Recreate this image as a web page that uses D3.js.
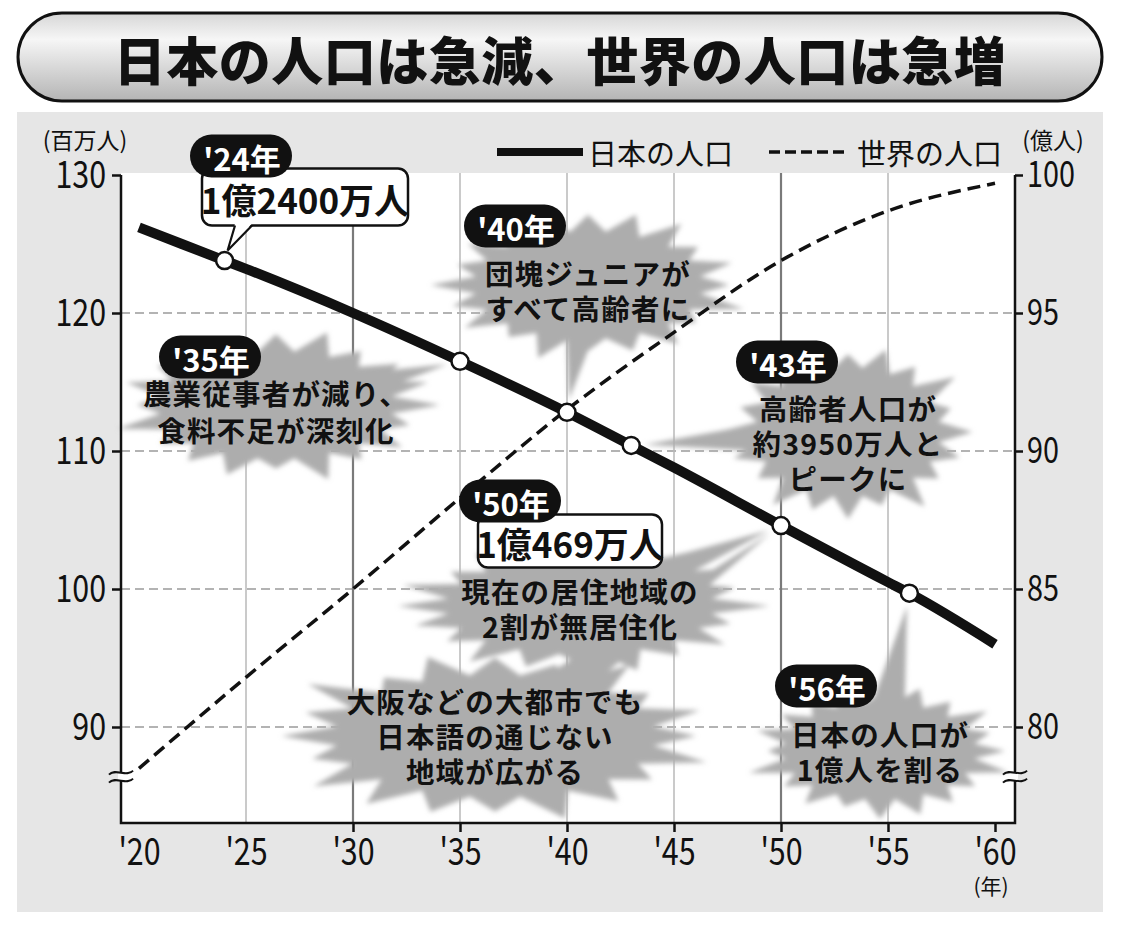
<!DOCTYPE html>
<html>
<head>
<meta charset="utf-8">
<title>日本の人口は急減、世界の人口は急増</title>
<script src="https://cdn.jsdelivr.net/npm/d3@7"></script>
<style>
  body { margin: 0; background: #fff; }
  svg { display: block; }
</style>
</head>
<body>
<div class="main"></div>
<script>

// ---- data ----
var titleText = '日本の人口は急減、世界の人口は急増';
var jpYears = [2020, 2024, 2025, 2030, 2035, 2040, 2043, 2045, 2050, 2055, 2056, 2060];
var jpPop   = [126.2, 123.8, 123.2, 120.0, 116.5, 112.8, 110.4, 108.8, 104.6, 100.5, 99.7, 96.0]; // 百万人
var wYears  = [2020, 2025, 2030, 2035, 2040, 2045, 2050, 2055, 2060];
var wPop    = [78.5, 81.8, 85.0, 88.3, 91.5, 94.3, 96.9, 98.7, 99.7]; // 億人
var markYears = [2024, 2035, 2040, 2043, 2050, 2056];
var xTicks = [2020, 2025, 2030, 2035, 2040, 2045, 2050, 2055, 2060];
var leftTicks = [90, 100, 110, 120, 130];
var rightTicks = [80, 85, 90, 95, 100];
var seriesNames = ['日本の人口', '世界の人口'];

var notes = [
  { tag: "'35年", lines: ['農業従事者が減り、', '食料不足が深刻化'] },
  { tag: "'40年", lines: ['団塊ジュニアが', 'すべて高齢者に'] },
  { tag: "'43年", lines: ['高齢者人口が', '約3950万人と', 'ピークに'] },
  { tag: "'50年", lines: ['現在の居住地域の', '2割が無居住化'] },
  { tag: null,    lines: ['大阪などの大都市でも', '日本語の通じない', '地域が広がる'] },
  { tag: "'56年", lines: ['日本の人口が', '1億人を割る'] }
];
var boxes = [ { tag: "'24年", text: '1億2400万人' }, { tag: null, text: '1億469万人' } ];

// ---- layout ----
var W = 1125, H = 926;
var NUM = "'Liberation Sans Narrow','Arial Narrow','Noto Sans CJK JP',sans-serif";
var JP = "'Noto Sans CJK JP','Noto Sans',sans-serif";
var plotL = 121, plotR = 1015, plotT = 173, plotB = 823;
var squeeze = 0.8; // narrow digits like the print

var x = d3.scaleLinear().domain([2020, 2060]).range([139, 995]);
var yL = d3.scaleLinear().domain([90, 130]).range([727, 175]);
var yR = d3.scaleLinear().domain([80, 100]).range([727, 175]);

function jpAt(yr) { return jpPop[jpYears.indexOf(yr)]; }

var svg = d3.select('.main').append('svg').attr('width', W).attr('height', H);
var defs = svg.append('defs');

var grad = defs.append('linearGradient').attr('id', 'pill').attr('x1', 0).attr('x2', 0).attr('y1', 0).attr('y2', 1);
grad.append('stop').attr('offset', '0%').attr('stop-color', '#d6d6d6');
grad.append('stop').attr('offset', '30%').attr('stop-color', '#f6f6f6');
grad.append('stop').attr('offset', '100%').attr('stop-color', '#b4b4b4');

defs.append('filter').attr('id', 'soft').attr('x', '-20%').attr('y', '-20%').attr('width', '140%').attr('height', '140%')
  .append('feGaussianBlur').attr('stdDeviation', 2.4);

// title pill
svg.append('rect').attr('x', 18).attr('y', 13).attr('width', 1084).attr('height', 88).attr('rx', 44)
  .attr('fill', 'url(#pill)').attr('stroke', '#111').attr('stroke-width', 3);
svg.append('text').attr('x', 560).attr('y', 58).attr('text-anchor', 'middle').attr('dominant-baseline', 'central')
  .attr('font-family', JP).attr('font-weight', 900).attr('font-size', 52).attr('fill', '#111')
  .attr('letter-spacing', 0.5)
  .text(titleText);

// panel
svg.append('rect').attr('x', 17).attr('y', 112).attr('width', 1086).attr('height', 800).attr('fill', '#e6e6e6');
svg.append('rect').attr('x', plotL).attr('y', plotT).attr('width', plotR - plotL).attr('height', plotB - plotT).attr('fill', '#fff');

// grid
var g = svg.append('g');
g.selectAll('line.hgrid').data(leftTicks.filter(function(d) { return d < 130; }))
  .enter().append('line').attr('class', 'hgrid')
  .attr('x1', plotL).attr('x2', plotR)
  .attr('y1', function(d) { return yL(d); }).attr('y2', function(d) { return yL(d); })
  .attr('stroke', '#9a9a9a').attr('stroke-width', 1.5).attr('stroke-dasharray', '9,5');
g.selectAll('line.vgrid').data(xTicks.filter(function(d) { return d > 2020 && d < 2060; }))
  .enter().append('line').attr('class', 'vgrid')
  .attr('x1', function(d) { return x(d); }).attr('x2', function(d) { return x(d); })
  .attr('y1', plotT).attr('y2', plotB)
  .attr('stroke', function(d) { return (d == 2030 || d == 2050) ? '#7a7a7a' : '#b8b8b8'; })
  .attr('stroke-width', function(d) { return (d == 2030 || d == 2050) ? 2.2 : 1.5; });

// balloons (soft grey bursts)
var spikes = [0.26, 0.08, 0.2, 0.12, 0.3, 0.06, 0.22, 0.15, 0.1, 0.28, 0.07, 0.21, 0.13, 0.25, 0.09, 0.18, 0.27, 0.11, 0.17, 0.23];
var layout = [
  { at: 2035, cx: 276, cy: 405, rx: 130, ry: 60, ty: 392, lh: 37, pill: [210, 357], k: 0 },
  { at: 2040, cx: 588, cy: 285, rx: 126, ry: 60, ty: 272, lh: 35, pill: [515, 226], k: 3 },
  { at: 2043, cx: 848, cy: 432, rx: 102, ry: 72, ty: 407, lh: 35, pill: [787, 362], k: 6 },
  { at: 2050, cx: 580, cy: 606, rx: 148, ry: 54, ty: 590, lh: 35, pill: [510, 501], k: 9 },
  { at: 2050, cx: 495, cy: 736, rx: 178, ry: 68, ty: 700, lh: 35, pill: null, k: 12 },
  { at: 2056, cx: 880, cy: 751, rx: 106, ry: 54, ty: 733, lh: 35, pill: [826, 686], k: 15 }
];

function burst(b) {
  var n = spikes.length, pts = [];
  for (var i = 0; i < n; i++) {
    var a0 = i / n * 2 * Math.PI, a1 = (i + 0.5) / n * 2 * Math.PI;
    var o = 1 + spikes[(i + b.k) % n];
    pts.push([b.cx + Math.cos(a0) * b.rx * o, b.cy + Math.sin(a0) * b.ry * o]);
    pts.push([b.cx + Math.cos(a1) * b.rx * 0.9, b.cy + Math.sin(a1) * b.ry * 0.9]);
  }
  return d3.line().curve(d3.curveLinearClosed)(pts);
}
function tail(b) {
  var tx = x(b.at), ty = yL(jpAt(b.at));
  var dx = tx - b.cx, dy = ty - b.cy, len = Math.sqrt(dx * dx + dy * dy);
  var ux = dx / len, uy = dy / len, w = 24;
  tx -= ux * 13; ty -= uy * 13;
  return 'M' + (b.cx - uy * w) + ',' + (b.cy + ux * w) + 'L' + tx + ',' + ty +
         'L' + (b.cx + uy * w) + ',' + (b.cy - ux * w) + 'Z';
}
var bg = svg.append('g').attr('filter', 'url(#soft)').attr('fill', '#adadad');
layout.forEach(function(b) {
  bg.append('path').attr('d', burst(b));
  bg.append('path').attr('d', tail(b));
});

// axes
var axL = svg.append('g').attr('transform', 'translate(' + plotL + ',0)')
  .call(d3.axisLeft(yL).tickValues(leftTicks).tickSize(9).tickPadding(6));
var axR = svg.append('g').attr('transform', 'translate(' + plotR + ',0)')
  .call(d3.axisRight(yR).tickValues(rightTicks).tickSize(8).tickPadding(4));
var axB = svg.append('g').attr('transform', 'translate(0,' + plotB + ')')
  .call(d3.axisBottom(x).tickValues(xTicks).tickSize(9).tickPadding(6)
    .tickFormat(function(d) { return "'" + String(d).slice(2); }));
[axL, axR, axB].forEach(function(a) {
  a.select('.domain').remove();
  a.selectAll('line').attr('stroke', '#111').attr('stroke-width', 2.5);
  a.selectAll('text').attr('font-family', NUM).attr('font-size', 38).attr('fill', '#111')
    .each(function() {
      var t = d3.select(this), x0 = +t.attr('x') || 0;
      t.attr('x', x0 / squeeze).attr('transform', 'scale(' + squeeze + ',1)');
    });
});
axR.selectAll('text').attr('font-size', 36);
axB.selectAll('.tick').filter(function(d) { return d < 2030; }).select('line').remove();

svg.append('path').attr('d', 'M' + plotL + ',' + yL(130) + 'V' + plotB + 'H' + plotR + 'V' + yR(100))
  .attr('fill', 'none').attr('stroke', '#111').attr('stroke-width', 2.5);

// axis breaks
var yb = yL(86.4);
[plotL, plotR].forEach(function(ax) {
  svg.append('rect').attr('x', ax - 3).attr('y', yb - 4).attr('width', 6).attr('height', 8).attr('fill', '#fff');
  [-4, 4].forEach(function(o) {
    svg.append('path')
      .attr('d', 'M' + (ax - 12) + ',' + (yb + o + 2) + 'C' + (ax - 6) + ',' + (yb + o - 5) + ' ' + (ax + 6) + ',' + (yb + o + 5) + ' ' + (ax + 12) + ',' + (yb + o - 2))
      .attr('fill', 'none').attr('stroke', '#111').attr('stroke-width', 2);
  });
});

// units
svg.append('text').attr('x', 85).attr('y', 139).attr('text-anchor', 'middle').attr('dominant-baseline', 'central')
  .attr('font-family', JP).attr('font-size', 23).attr('fill', '#111').text('(百万人)');
svg.append('text').attr('x', 1053).attr('y', 139).attr('text-anchor', 'middle').attr('dominant-baseline', 'central')
  .attr('font-family', JP).attr('font-size', 23).attr('fill', '#111').text('(億人)');
svg.append('text').attr('x', 991).attr('y', 885).attr('text-anchor', 'middle').attr('dominant-baseline', 'central')
  .attr('font-family', JP).attr('font-size', 21).attr('fill', '#111').text('(年)');

// legend
svg.append('line').attr('x1', 497).attr('x2', 583).attr('y1', 152).attr('y2', 152).attr('stroke', '#111').attr('stroke-width', 8);
svg.append('text').attr('x', 588).attr('y', 152).attr('dominant-baseline', 'central')
  .attr('font-family', JP).attr('font-size', 29).attr('fill', '#111').text(seriesNames[0]);
svg.append('line').attr('x1', 769).attr('x2', 845).attr('y1', 152).attr('y2', 152).attr('stroke', '#111')
  .attr('stroke-width', 3.5).attr('stroke-dasharray', '11,5');
svg.append('text').attr('x', 857).attr('y', 152).attr('dominant-baseline', 'central')
  .attr('font-family', JP).attr('font-size', 29).attr('fill', '#111').text(seriesNames[1]);

// series
var wLine = d3.line().curve(d3.curveMonotoneX)
  .x(function(d, i) { return x(wYears[i]); }).y(function(d) { return yR(d); });
svg.append('path').datum(wPop).attr('d', wLine).attr('fill', 'none').attr('stroke', '#111')
  .attr('stroke-width', 3.5).attr('stroke-dasharray', '13,7');

var jLine = d3.line().curve(d3.curveMonotoneX)
  .x(function(d, i) { return x(jpYears[i]); }).y(function(d) { return yL(d); });
svg.append('path').datum(jpPop).attr('d', jLine).attr('fill', 'none').attr('stroke', '#111')
  .attr('stroke-width', 10).attr('stroke-linecap', 'butt');

svg.selectAll('circle.mark').data(markYears)
  .enter().append('circle').attr('class', 'mark')
  .attr('cx', function(d) { return x(d); })
  .attr('cy', function(d) { return yL(jpAt(d)); })
  .attr('r', 8.5).attr('fill', '#fff').attr('stroke', '#111').attr('stroke-width', 2.5);

// balloon texts
layout.forEach(function(b, i) {
  notes[i].lines.forEach(function(s, j) {
    svg.append('text').attr('x', b.cx).attr('y', b.ty + j * b.lh)
      .attr('text-anchor', 'middle').attr('dominant-baseline', 'central')
      .attr('font-family', NUM).attr('font-weight', 'bold').attr('font-size', 28.5)
      .attr('letter-spacing', 1.2).attr('fill', '#111')
      .text(s);
  });
});

// white value boxes
function valueBox(cx, cy, w, h, text, tailTo) {
  svg.append('rect').attr('x', cx - w / 2).attr('y', cy - h / 2).attr('width', w).attr('height', h).attr('rx', 10)
    .attr('fill', '#fff').attr('stroke', '#111').attr('stroke-width', 2.5);
  if (tailTo) {
    var by = cy + h / 2, bx1 = tailTo[2], bx2 = tailTo[2] + 17;
    svg.append('path').attr('d', 'M' + bx1 + ',' + (by - 2) + 'L' + tailTo[0] + ',' + tailTo[1] + 'L' + bx2 + ',' + (by - 2) + 'Z')
      .attr('fill', '#fff');
    svg.append('path').attr('d', 'M' + bx1 + ',' + by + 'L' + tailTo[0] + ',' + tailTo[1] + 'L' + bx2 + ',' + by)
      .attr('fill', 'none').attr('stroke', '#111').attr('stroke-width', 2.2);
  }
  svg.append('text').attr('x', cx).attr('y', cy + 1).attr('text-anchor', 'middle').attr('dominant-baseline', 'central')
    .attr('font-family', NUM).attr('font-weight', 'bold').attr('font-size', 35).attr('fill', '#111').text(text);
}
valueBox(305, 197, 206, 57, boxes[0].text, [x(2024) + 3, yL(jpAt(2024)) - 10, 235]);
valueBox(570, 541, 184, 53, boxes[1].text, null);

// black year pills
function pill(cx, cy, text) {
  svg.append('rect').attr('x', cx - 51).attr('y', cy - 21.5).attr('width', 102).attr('height', 43).attr('rx', 21.5)
    .attr('fill', '#111');
  svg.append('text').attr('x', cx + 1).attr('y', cy + 1).attr('text-anchor', 'middle').attr('dominant-baseline', 'central')
    .attr('font-family', NUM).attr('font-weight', 'bold').attr('font-size', 31).attr('fill', '#fff').text(text);
}
pill(241, 156, boxes[0].tag);
layout.forEach(function(b, i) {
  if (b.pill) pill(b.pill[0], b.pill[1], notes[i].tag);
});

</script>
</body>
</html>
